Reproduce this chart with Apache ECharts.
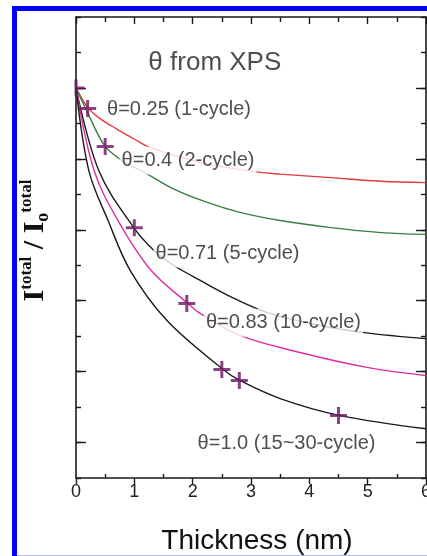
<!DOCTYPE html>
<html>
<head>
<meta charset="utf-8">
<script src="https://cdn.jsdelivr.net/npm/echarts@6/dist/echarts.min.js"></script>
<style>
html,body{margin:0;padding:0;background:#fff;}
#main{width:427px;height:556px;}
</style>
</head>
<body>
<div id="main"></div>
<script>
// curves: thickness (nm) -> I_total / I0_total
var x025 = [0, 0.2, 0.4, 0.7, 1.0, 1.25, 2.13, 3.05, 3.5, 4.37, 5.23, 6];
var y025 = [1.0, 0.945, 0.915, 0.884, 0.856, 0.833, 0.790, 0.764, 0.757, 0.747, 0.737, 0.733];

var x040 = [0, 0.2, 0.5, 0.84, 1.18, 1.66, 2.25, 2.81, 3.5, 4.37, 5.23, 6];
var y040 = [1.0, 0.93, 0.835, 0.790, 0.761, 0.716, 0.677, 0.649, 0.626, 0.606, 0.592, 0.587];

var x071 = [0, 0.39, 0.99, 1.34, 1.65, 2.13, 2.64, 3.27, 4.10, 4.95, 6];
var y071 = [1.0, 0.767, 0.606, 0.541, 0.502, 0.457, 0.412, 0.367, 0.333, 0.310, 0.293];

var x083 = [0, 0.31, 0.72, 1.29, 1.92, 2.13, 2.81, 3.84, 4.99, 6];
var y083 = [1.0, 0.767, 0.626, 0.485, 0.392, 0.364, 0.302, 0.254, 0.212, 0.189];

var x100 = [0, 0.22, 0.55, 0.93, 1.56, 2.50, 2.81, 3.50, 4.53, 6];
var y100 = [1.0, 0.767, 0.626, 0.485, 0.344, 0.209, 0.175, 0.124, 0.076, 0.039];

// measured points (+)
var markX = [0, 0.2, 0.5, 1.0, 1.9, 2.5, 2.8, 4.5];
var markY = [1.0, 0.942, 0.835, 0.606, 0.392, 0.206, 0.175, 0.076];

// annotations
var noteText = ['\u03b8 from XPS', '\u03b8=0.25 (1-cycle)', '\u03b8=0.4 (2-cycle)', '\u03b8=0.71 (5-cycle)', '\u03b8=0.83 (10-cycle)', '\u03b8=1.0 (15~30-cycle)'];
var noteX = [2.38, 1.766, 1.92, 2.597, 3.557, 3.609];
var noteY = [1.072, 0.939, 0.795, 0.533, 0.338, -0.003];

function pairs(xs, ys) {
	var out = [];
	for (var i = 0; i < xs.length; i++) out.push([xs[i], ys[i]]);
	return out;
}

var FONT = "'Liberation Sans', Arial, sans-serif";
var SERIF = "'Liberation Serif', 'Times New Roman', serif";
var INK = '#1a1a1a';
var PLUS = 'path://M7,0 h3 v7 h7 v3 h-7 v7 h-3 v-7 h-7 v-3 h7 z';
var HALF_PLUS = 'path://M0,0 h3 v17 h-3 z M3,7 h7 v3 h-7 z';

function curve(name, xs, ys, color) {
	return {
		type: 'line',
		name: name,
		data: pairs(xs, ys),
		smooth: 0.35,
		showSymbol: false,
		silent: true,
		z: 2,
		lineStyle: {color: color, width: 1.4}
	};
}

var markData = [];
for (var i = 0; i < markX.length; i++) {
	if (markX[i] === 0) {
		// left half hidden behind the axis
		markData.push({value: [markX[i], markY[i]], symbol: HALF_PLUS, symbolSize: [10, 17], symbolOffset: [3.5, 0]});
	} else {
		markData.push([markX[i], markY[i]]);
	}
}

var noteData = [];
for (var j = 0; j < noteText.length; j++) {
	noteData.push({
		value: [noteX[j], noteY[j]],
		label: {
			formatter: noteText[j],
			fontSize: j === 0 ? 26 : 20,
			backgroundColor: j === 0 ? 'transparent' : '#fff',
			padding: j === 1 ? [1, 1, 1, 1] : [4, 2, 4, 2]
		}
	});
}

var myChart = echarts.init(document.getElementById('main'));
var option = {
	backgroundColor: '#fff',
	animation: false,
	grid: {left: 76, top: 17, right: 1, bottom: 78, outerBoundsMode: 'none'},
	graphic: [
		{type: 'rect', z: 100, shape: {x: 14.5, y: 8.5, width: 600, height: 700}, style: {fill: null, stroke: '#0000ff', lineWidth: 5}},
		{type: 'rect', z: 100, shape: {x: 17, y: 555, width: 420, height: 1}, style: {fill: '#b4b8f4'}}
	],
	xAxis: [
		{
			type: 'value', min: 0, max: 6, interval: 1, position: 'bottom',
			axisLine: {onZero: false, lineStyle: {color: INK, width: 1.6}},
			axisTick: {inside: false, length: 6, lineStyle: {color: INK, width: 1.4}},
			axisLabel: {fontSize: 18, color: '#222', fontFamily: FONT, margin: 5},
			splitLine: {show: false},
			name: 'Thickness (nm)', nameLocation: 'middle', nameGap: 49,
			nameTextStyle: {fontSize: 28, color: '#111', fontFamily: FONT, padding: [0, 0, 0, 12]}
		},
		{
			type: 'value', min: 0, max: 6, position: 'bottom',
			axisLine: {show: false, onZero: false},
			axisTick: {inside: true, length: 4, customValues: [0.5, 1.5, 2.5, 3.5, 4.5, 5.5], lineStyle: {color: INK, width: 1.4}},
			axisLabel: {show: false}, splitLine: {show: false}
		},
		{
			type: 'value', min: 0, max: 6, interval: 1, position: 'top',
			axisLine: {onZero: false, lineStyle: {color: INK, width: 1.6}},
			axisTick: {inside: true, length: 7, lineStyle: {color: INK, width: 1.4}},
			minorTick: {show: true, splitNumber: 2, length: 5, lineStyle: {color: INK, width: 1.4}},
			axisLabel: {show: false}, splitLine: {show: false}
		}
	],
	yAxis: [
		{
			type: 'value', min: -0.1, max: 1.2, interval: 0.1, position: 'left',
			axisLine: {show: true, onZero: false, lineStyle: {color: INK, width: 1.6}},
			axisTick: {inside: true, length: 5, lineStyle: {color: INK, width: 1.4}},
			axisLabel: {show: false}, splitLine: {show: false},
			name: '{b|I}{sup|total}{b| / I}{sub|o}{sup|total}',
			nameLocation: 'middle', nameRotate: 90, nameGap: 24,
			nameTextStyle: {
				padding: [0, 0, 0, 14],
				rich: {
					b: {fontFamily: SERIF, fontWeight: 'bold', fontSize: 30, lineHeight: 34, color: '#111'},
					sup: {fontFamily: SERIF, fontWeight: 'bold', fontSize: 17, verticalAlign: 'top', lineHeight: 34, color: '#111'},
					sub: {fontFamily: SERIF, fontWeight: 'bold', fontSize: 18, verticalAlign: 'bottom', lineHeight: 34, color: '#111'}
				}
			}
		},
		{
			type: 'value', min: -0.1, max: 1.2, position: 'left',
			axisLine: {show: false, onZero: false},
			axisTick: {inside: true, length: 10, customValues: [0, 0.2, 0.4, 0.6, 0.8, 1.0], lineStyle: {color: INK, width: 1.4}},
			axisLabel: {show: false}, splitLine: {show: false}
		},
		{
			type: 'value', min: -0.1, max: 1.2, interval: 0.1, position: 'right',
			axisLine: {show: true, onZero: false, lineStyle: {color: INK, width: 1.6}},
			axisTick: {inside: true, length: 5, lineStyle: {color: INK, width: 1.4}},
			axisLabel: {show: false}, splitLine: {show: false}
		},
		{
			type: 'value', min: -0.1, max: 1.2, position: 'right',
			axisLine: {show: false, onZero: false},
			axisTick: {inside: true, length: 10, customValues: [0, 0.2, 0.4, 0.6, 0.8, 1.0], lineStyle: {color: INK, width: 1.4}},
			axisLabel: {show: false}, splitLine: {show: false}
		}
	],
	series: [
		curve('\u03b8=0.25', x025, y025, '#e0393e'),
		curve('\u03b8=0.4', x040, y040, '#3c7d45'),
		curve('\u03b8=0.71', x071, y071, INK),
		curve('\u03b8=0.83', x083, y083, '#dd2ea0'),
		curve('\u03b8=1.0', x100, y100, INK),
		{
			type: 'scatter', name: 'notes', silent: true, z: 4,
			symbolSize: 1, itemStyle: {color: 'transparent'},
			label: {show: true, position: 'inside', color: '#222', fontFamily: FONT},
			data: noteData
		},
		{
			type: 'scatter', name: 'XPS', silent: true, z: 5,
			symbol: PLUS, symbolSize: 17,
			itemStyle: {color: '#6c1464'},
			data: markData
		}
	]
};
myChart.setOption(option);
</script>
</body>
</html>
